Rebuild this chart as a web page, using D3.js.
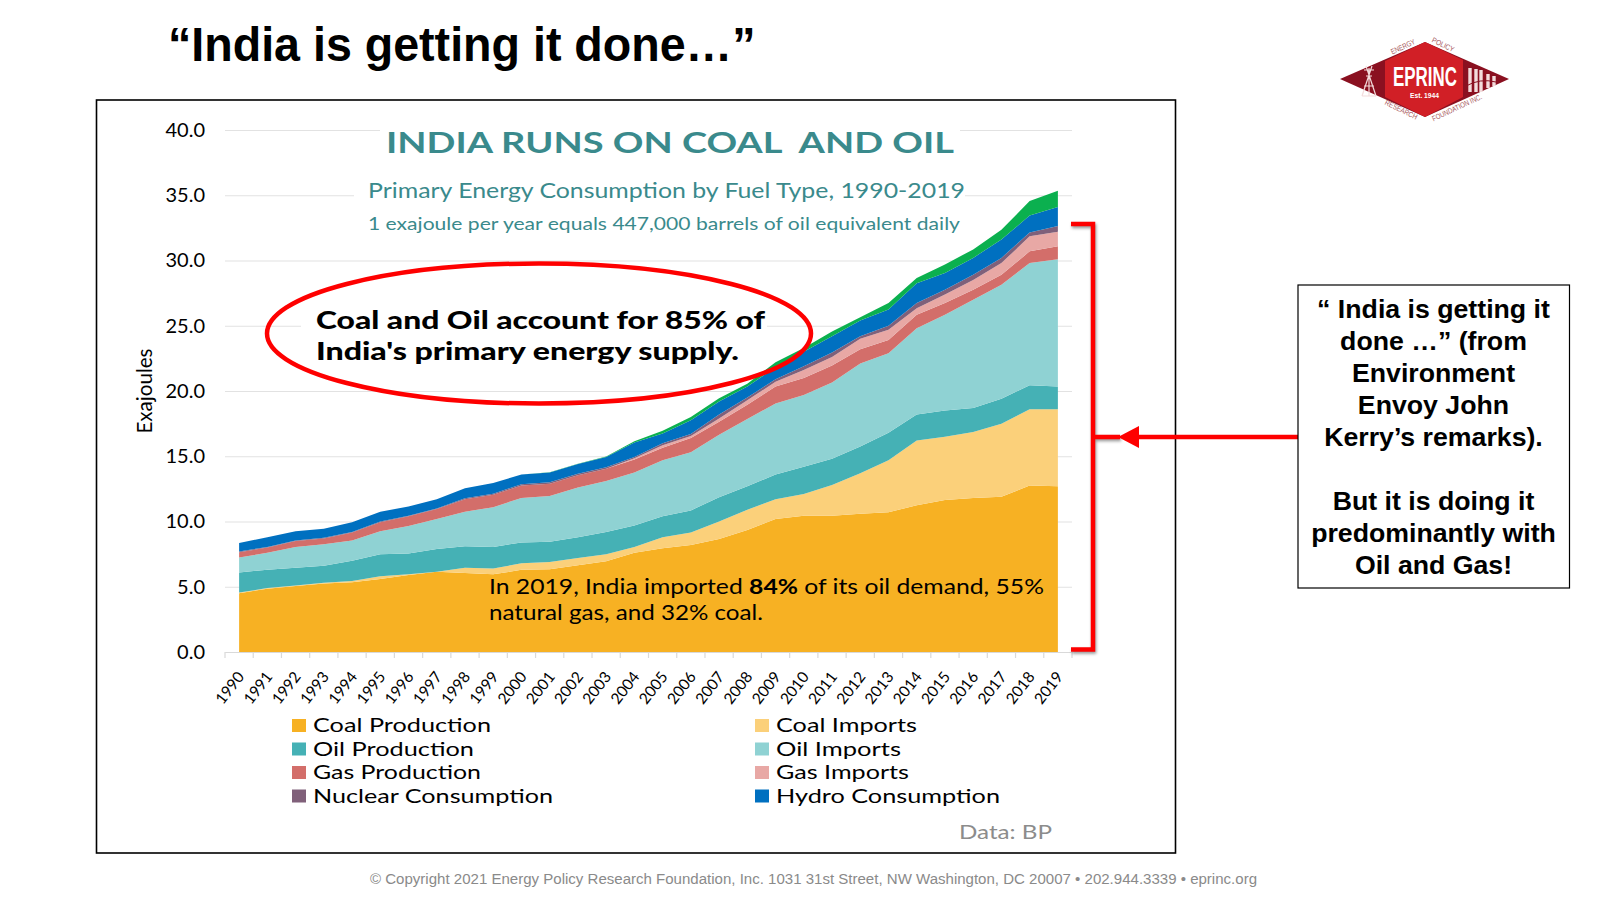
<!DOCTYPE html>
<html>
<head>
<meta charset="utf-8">
<script src="https://d3js.org/d3.v7.min.js"></script>
<style>
  html, body { margin: 0; padding: 0; background: #fff; }
  svg { display: block; }
</style>
</head>
<body>
<svg width="1600" height="900"></svg>
<script>
let years = ["1990","1991","1992","1993","1994","1995","1996","1997","1998","1999","2000","2001","2002","2003","2004","2005","2006","2007","2008","2009","2010","2011","2012","2013","2014","2015","2016","2017","2018","2019"];
let yTicks = [0, 5, 10, 15, 20, 25, 30, 35, 40];

let coalProduction = [4.5,4.85,5.05,5.25,5.35,5.6,5.9,6.15,6.05,5.95,6.3,6.35,6.65,6.95,7.6,7.95,8.2,8.65,9.35,10.2,10.45,10.45,10.6,10.7,11.25,11.65,11.8,11.9,12.75,12.7];
let coalImports = [.05,.05,.05,.05,.1,.2,.05,0,.4,.45,.5,.55,.55,.55,.45,.85,.95,1.35,1.55,1.5,1.65,2.35,3.1,4.0,4.95,4.85,5.05,5.6,5.85,5.9];
let oilProduction = [1.55,1.4,1.35,1.3,1.55,1.7,1.6,1.75,1.65,1.65,1.6,1.55,1.6,1.7,1.65,1.6,1.7,1.85,1.8,1.9,2.1,2.0,2.05,2.1,2.0,2.0,1.85,1.9,1.85,1.75];
let oilImports = [1.15,1.3,1.6,1.65,1.55,1.75,2.1,2.3,2.65,3.05,3.4,3.5,3.8,3.9,4.05,4.3,4.45,4.8,5.15,5.45,5.5,5.85,6.35,6.1,6.6,7.35,8.3,8.75,9.35,9.75];
let gasProduction = [.4,.4,.45,.45,.6,.7,.75,.75,.95,.95,.95,.95,.95,.95,1.0,.95,1.1,1.0,1.1,1.3,1.3,1.3,1.1,1.0,1.05,.9,.75,.75,.9,1.0];
let gasImports = [0,0,0,0,0,0,0,0,0,0,0,0,0,0,.1,.2,.15,.25,.35,.35,.6,.65,.8,.8,.5,.65,.75,.9,1.15,1.1];
let nuclear = [.05,.05,.05,.05,.05,.05,.05,.05,.08,.08,.1,.1,.1,.1,.1,.15,.15,.3,.2,.2,.3,.35,.2,.3,.4,.35,.4,.4,.3,.45];
let hydro = [.65,.75,.7,.7,.75,.75,.7,.7,.77,.82,.75,.75,.75,.8,1.1,.75,1.05,1.0,.85,.9,1.1,1.25,1.2,1.25,1.5,1.3,1.3,1.4,1.3,1.45];
let renewables = [0,0,0,0,0,0,0,0,0,0,0,.03,.03,.03,.1,.2,.25,.25,.2,.4,.3,.35,.25,.5,.4,.65,.65,.75,1.1,1.25];

let seriesNames = ["Coal Production","Coal Imports","Oil Production","Oil Imports","Gas Production","Gas Imports","Nuclear Consumption","Hydro Consumption","Renewables"];
let seriesValues = [coalProduction, coalImports, oilProduction, oilImports, gasProduction, gasImports, nuclear, hydro, renewables];
let seriesColors = ["#f7b123","#fbd07a","#45b1b5","#8fd2d3","#d36e6a","#e8a8a5","#80607a","#0070c0","#0bb04f"];

let gill = "Lato, 'Noto Sans', sans-serif";
let arial = "'Liberation Sans', Arial, sans-serif";
let red = "#fe0000";
let teal = "#3a8a8c";

let svg = d3.select("svg");

// writes one line of text, stretched to the width it has in the slide
function label(parent, str, x, y, size, opts) {
    opts = opts || {};
    let t = parent.append("text")
        .attr("x", x)
        .attr("y", y)
        .attr("font-family", opts.font || gill)
        .attr("font-size", size)
        .attr("font-weight", opts.weight || "normal")
        .attr("fill", opts.fill || "#000")
        .attr("text-anchor", opts.anchor || "start")
        .style("white-space", "pre")
        .text(str);
    if (opts.width) t.attr("textLength", opts.width).attr("lengthAdjust", "spacingAndGlyphs");
    return t;
}

// slide title, footer
label(svg, "\u201cIndia is getting it done\u2026\u201d", 168, 61, 48, {font: arial, weight: "bold", width: 587.5});
label(svg, "\u00a9 Copyright 2021 Energy Policy Research Foundation, Inc. 1031 31st Street, NW Washington, DC 20007 \u2022 202.944.3339 \u2022 eprinc.org", 370, 884, 15.5, {font: arial, fill: "#8a8a8a", width: 887});

// chart frame
svg.append("rect").attr("x", 96.5).attr("y", 100).attr("width", 1079).attr("height", 753)
    .attr("fill", "#fff").attr("stroke", "#000").attr("stroke-width", 1.6);

let margin = {top: 130, right: 528, bottom: 248, left: 225},
    width = 1600 - margin.left - margin.right,
    height = 900 - margin.top - margin.bottom,
    g = svg.append("g").attr("transform", "translate(" + margin.left + "," + margin.top + ")");

let x = d3.scaleBand().domain(years).range([0, width]),
    y = d3.scaleLinear().domain([0, 40]).range([height, 0]);

// y axis carries the gridlines
let yAxis = g.append("g")
    .call(d3.axisLeft(y).tickValues(yTicks).tickFormat(d3.format(".1f")).tickSizeInner(-width).tickSizeOuter(0).tickPadding(20));
yAxis.select(".domain").remove();
yAxis.selectAll("line").attr("stroke", "#e2e2e2").attr("stroke-width", 1.2);
yAxis.selectAll("text").attr("font-family", gill).attr("font-size", 20).attr("fill", "#000");

// white boxes of the text blocks hide the gridlines behind them
g.append("rect").attr("x", 155).attr("y", -8).attr("width", 580).attr("height", 45).attr("fill", "#fff");
g.append("rect").attr("x", 129).attr("y", 48).attr("width", 611).attr("height", 60).attr("fill", "#fff");
g.append("rect").attr("x", 76).attr("y", 170).attr("width", 466).attr("height", 75).attr("fill", "#fff");

// x axis
let xAxis = g.append("g")
    .attr("transform", "translate(0," + height + ")")
    .call(d3.axisBottom(x).tickSize(0).tickPadding(0));
xAxis.select(".domain").attr("stroke", "#d9d9d9").attr("stroke-width", 1.2);
xAxis.selectAll("text")
    .attr("font-family", gill)
    .attr("font-size", 15.5)
    .attr("fill", "#000")
    .attr("text-anchor", "end")
    .attr("y", 0)
    .attr("dy", 0)
    .attr("transform", "translate(6,25) rotate(-52)");
g.append("g").selectAll("line")
    .data(d3.range(years.length + 1))
    .enter().append("line")
    .attr("x1", function(d) { return d * x.step(); })
    .attr("x2", function(d) { return d * x.step(); })
    .attr("y1", height)
    .attr("y2", height + 6)
    .attr("stroke", "#d9d9d9")
    .attr("stroke-width", 1.2);

// stacked areas
let table = years.map(function(yr, i) {
    let row = {year: yr};
    seriesNames.forEach(function(name, s) { row[name] = seriesValues[s][i]; });
    return row;
});
let stack = d3.stack().keys(seriesNames)(table);
let area = d3.area()
    .x(function(d) { return x(d.data.year) + x.bandwidth() / 2; })
    .y0(function(d) { return y(d[0]); })
    .y1(function(d) { return y(d[1]); });

g.selectAll(".layer")
    .data(stack)
    .enter().append("path")
    .attr("class", "layer")
    .attr("fill", function(d, i) { return seriesColors[i]; })
    .attr("d", area);

// titles inside the chart
label(svg, "INDIA RUNS ON COAL  AND OIL", 386, 153, 28, {weight: "bold", fill: teal, width: 568});
label(svg, "Primary Energy Consumption by Fuel Type, 1990-2019", 368, 198, 21, {fill: teal, width: 597});
label(svg, "1 exajoule per year equals 447,000 barrels of oil equivalent daily", 368, 230, 18, {fill: teal, width: 592});

label(svg, "Exajoules", 0, 0, 21, {anchor: "middle", width: 85})
    .attr("transform", "translate(152,391) rotate(-90)");

// callouts
svg.append("ellipse").attr("cx", 539).attr("cy", 333.5).attr("rx", 272).attr("ry", 70)
    .attr("fill", "none").attr("stroke", red).attr("stroke-width", 4.5);
label(svg, "Coal and Oil account for 85% of", 316, 329, 24, {weight: "900", width: 449});
label(svg, "India's primary energy supply.", 316, 360, 24, {weight: "900", width: 423});

let note = label(svg, "", 489, 594, 21, {width: 555});
note.append("tspan").text("In 2019, India imported ");
note.append("tspan").attr("font-weight", "bold").text("84%");
note.append("tspan").text(" of its oil demand, 55%");
label(svg, "natural gas, and 32% coal.", 489, 620, 21, {width: 274});

// legend
let legendX = [292, 755],
    legendY = [725.5, 749, 772.5, 796],
    legendWidths = [178, 141, 161, 125, 168, 133, 240, 224];
seriesNames.slice(0, 8).forEach(function(name, i) {
    let lx = legendX[i % 2], ly = legendY[Math.floor(i / 2)];
    svg.append("rect").attr("x", lx).attr("y", ly - 6.5).attr("width", 14).attr("height", 13).attr("fill", seriesColors[i]);
    label(svg, name, lx + 21, ly + 6.5, 19, {width: legendWidths[i]});
});
label(svg, "Data: BP", 959, 839, 20, {fill: "#8c8c8c", width: 93});

// bracket and arrow
svg.append("path")
    .attr("d", "M1071,224H1093V649.5H1071M1093,437H1120")
    .attr("fill", "none")
    .attr("stroke", red)
    .attr("stroke-width", 4.5)
    .style("filter", "drop-shadow(1px 2px 1.5px rgba(0,0,0,.4))");
svg.append("line").attr("x1", 1135).attr("x2", 1298).attr("y1", 437).attr("y2", 437)
    .attr("stroke", red).attr("stroke-width", 4.5);
svg.append("path").attr("d", "M1118,437L1139,426V448Z").attr("fill", red);

// box on the right
svg.append("rect").attr("x", 1298).attr("y", 285).attr("width", 271.5).attr("height", 303)
    .attr("fill", "#fff").attr("stroke", "#000").attr("stroke-width", 1.2);
let boxLines = ["\u201c India is getting it", "done \u2026\u201d (from", "Environment", "Envoy John", "Kerry\u2019s remarks).", "But it is doing it", "predominantly with", "Oil and Gas!"],
    boxY = [318, 350, 382, 414, 446, 510, 542, 574];
boxLines.forEach(function(t, i) {
    label(svg, t, 1433.5, boxY[i], 26.7, {font: arial, weight: "bold", anchor: "middle"});
});

// logo
let logo = svg.append("g");
logo.append("path").attr("d", "M1340,79L1425,42L1509,79L1425,117Z").attr("fill", "#8a1020");
logo.append("path").attr("d", "M1385,61L1425,42L1463,60V97L1425,117L1385,97Z").attr("fill", "#d11f26");
label(logo, "EPRINC", 1393, 86, 27, {font: arial, weight: "bold", fill: "#fff", width: 64});
label(logo, "Est. 1944", 1410, 98, 7, {font: arial, weight: "bold", fill: "#fff", width: 29});
logo.append("path")
    .attr("d", "M1366,66L1376,96M1372,66L1362,96M1362,96H1376M1364,86H1374M1366,76H1372M1364,70H1374M1369,68V96")
    .attr("fill", "none").attr("stroke", "#f3dcdc").attr("stroke-width", 1.2);
logo.append("path")
    .attr("d", "M1470,68V92M1476,69V92M1481,70V92M1488,74V88M1494,76V86")
    .attr("fill", "none").attr("stroke", "#f3dcdc").attr("stroke-width", 3.4);
logo.append("path").attr("d", "M1466,86Q1480,78 1496,82").attr("fill", "none").attr("stroke", "#8a1020").attr("stroke-width", 1);
let logoWords = [["ENERGY", 1404, 49, -25, 26], ["POLICY", 1442, 47, 26, 24], ["RESEARCH", 1400, 112, 26, 35], ["FOUNDATION INC.", 1458, 110, -25, 54]];
logoWords.forEach(function(w) {
    label(logo, w[0], 0, 0, 7.5, {font: arial, fill: "#a85a60", anchor: "middle", width: w[4]})
        .attr("transform", "translate(" + w[1] + "," + w[2] + ") rotate(" + w[3] + ")");
});
</script>
</body>
</html>
